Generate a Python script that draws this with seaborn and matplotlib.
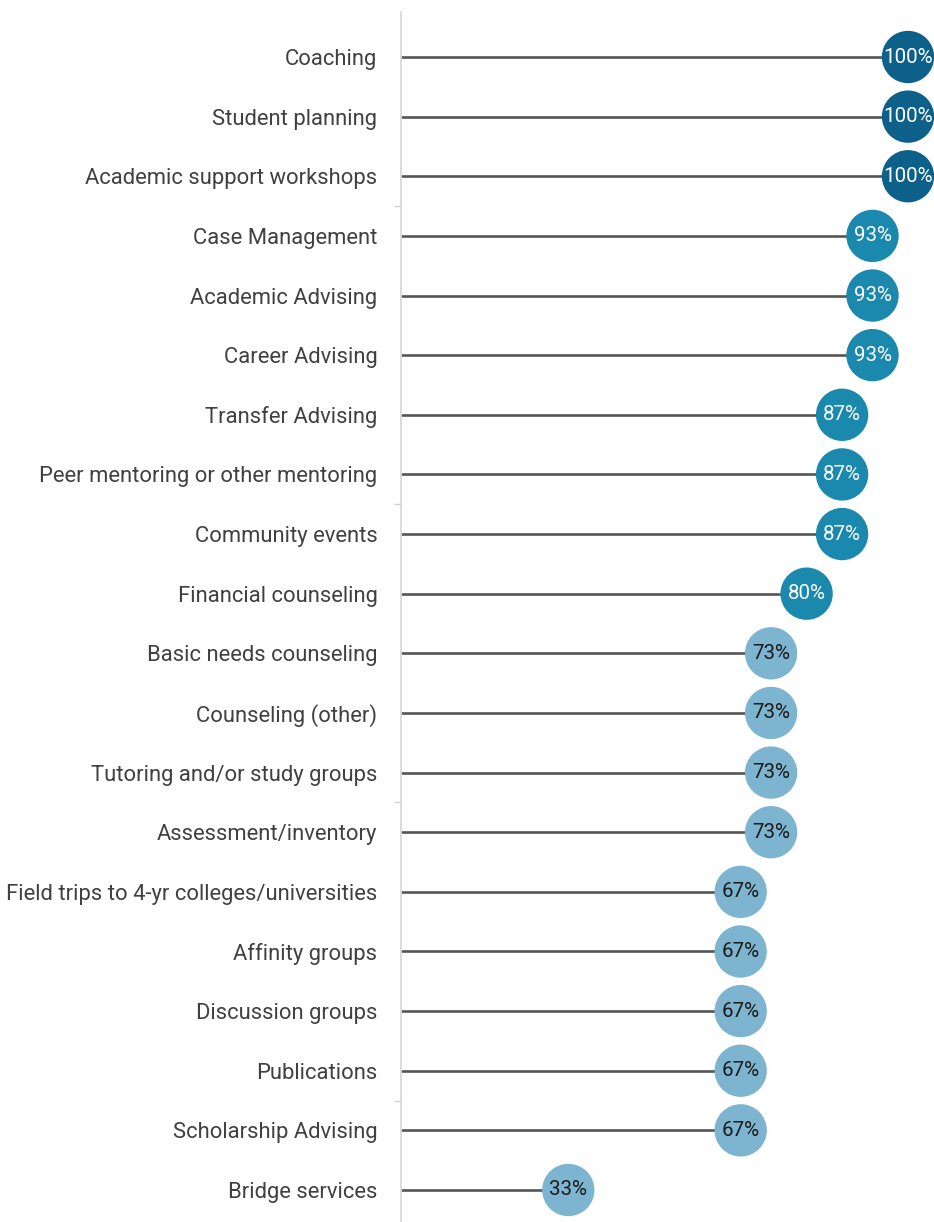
import numpy as np
import pandas as pd
import matplotlib
matplotlib.use("Agg")
import matplotlib.pyplot as plt
import seaborn as sns

services = [
    "Coaching", "Student planning", "Academic support workshops",
    "Case Management", "Academic Advising", "Career Advising",
    "Transfer Advising", "Peer mentoring or other mentoring",
    "Community events", "Financial counseling", "Basic needs counseling",
    "Counseling (other)", "Tutoring and/or study groups",
    "Assessment/inventory", "Field trips to 4-yr colleges/universities",
    "Affinity groups", "Discussion groups", "Publications",
    "Scholarship Advising", "Bridge services",
]
percent = [100, 100, 100, 93, 93, 93, 87, 87, 87, 80,
           73, 73, 73, 73, 67, 67, 67, 67, 67, 33]

DARK, MID, LIGHT = "#0c6089", "#1b88ad", "#7db4cf"


def tier(v):
    if v >= 100:
        return "high"
    if v >= 80:
        return "mid"
    return "low"


df = pd.DataFrame({"service": services, "pct": percent})
df["pos"] = np.arange(len(df))
df["tier"] = df["pct"].map(tier)

sns.set_style("white")
plt.rcParams["font.family"] = ["Roboto", "DejaVu Sans"]

fig = plt.figure(figsize=(9.34, 12.22), dpi=100)
ax = fig.add_axes([401 / 934, 0.0, (908 - 401) / 934, 1 - 12 / 1222])

# stems
ax.hlines(df["pos"], 0, df["pct"], color="#555555", lw=1.9, zorder=1)

# dots
sns.scatterplot(data=df, x="pct", y="pos", hue="tier",
                palette={"high": DARK, "mid": MID, "low": LIGHT},
                s=1420, linewidth=0, legend=False, ax=ax, zorder=3,
                clip_on=False)

for _, r in df.iterrows():
    ax.text(r["pct"], r["pos"], f"{r['pct']}%", ha="center", va="center",
            fontsize=14.8, color="white" if r["tier"] != "low" else "#1a1a1a",
            zorder=4, clip_on=False)

n = len(df)
ax.set_xlim(0, 100)
ax.set_ylim(n - 1 + 32 / 59.63, -45 / 59.63)

ax.set_yticks(df["pos"])
ax.set_yticklabels(df["service"], fontsize=15.8, color="#404040")
ax.tick_params(axis="y", which="major", left=False, length=0, pad=17)
ax.set_yticks([0, 2.5, 7.5, 12.5, 17.5], minor=True)
ax.tick_params(axis="y", which="minor", left=True, length=5, width=1,
               color="#d0d0d0")
ax.set_xticks([])
ax.set_xlabel("")
ax.set_ylabel("")

for side in ["top", "right", "bottom"]:
    ax.spines[side].set_visible(False)
ax.spines["left"].set_color("#d6d6d6")
ax.spines["left"].set_linewidth(1.2)

fig.savefig("out.png", dpi=100)
